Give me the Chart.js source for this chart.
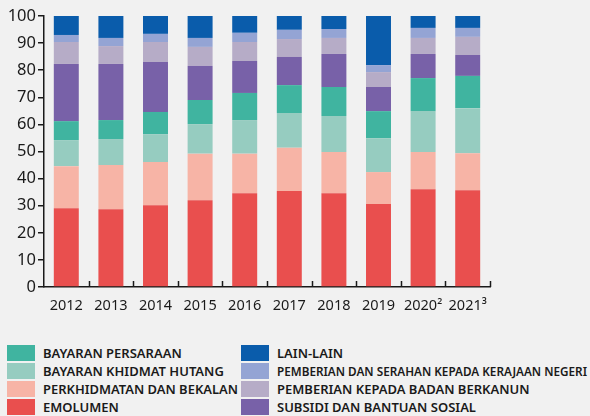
<!DOCTYPE html>
<html>
<head>
<meta charset="utf-8">
<script src="https://cdn.jsdelivr.net/npm/chart.js@4"></script>
<style>
  body { margin: 0; background: #f1f1f1; font-family: "Noto Sans", sans-serif; }
  #wrap { position: relative; width: 590px; height: 416px; }
  #chartBox { position: absolute; left: 0; top: 0; width: 590px; height: 330px; }
  .legCol { position: absolute; top: 344px; }
  .legItem { height: 18px; display: flex; align-items: center; white-space: nowrap; }
  .legItem span.sw { width: 28px; height: 16px; display: inline-block; margin-right: 8px; flex: none; }
  .legItem span.tx { display: inline-block; font-size: 13px; font-weight: 600; color: #1a1a1a; transform-origin: left center; }
</style>
</head>
<body>
<div id="wrap">
  <div id="chartBox"><canvas id="chart"></canvas></div>
  <div class="legCol" id="legLeft" style="left:7px"></div>
  <div class="legCol" id="legRight" style="left:241px"></div>
</div>
<script>
const years = ['2012', '2013', '2014', '2015', '2016', '2017', '2018', '2019', '2020²', '2021³'];

//..share of expenditure, %
const emolumen    = [29.1, 28.7, 30.2, 32.0, 34.6, 35.4, 34.6, 30.6, 36.1, 35.7];
const bekalan     = [15.5, 16.3, 15.9, 17.2, 14.6, 16.0, 15.2, 11.8, 13.7, 13.7];
const hutang      = [9.6, 9.6, 10.3, 10.9, 12.4, 12.8, 13.3, 12.5, 15.1, 16.6];
const persaraan   = [7.0, 7.0, 8.2, 8.9, 10.0, 10.3, 10.7, 10.0, 12.2, 11.9];
const subsidi     = [21.1, 20.7, 18.4, 12.6, 11.8, 10.4, 12.2, 8.9, 8.9, 7.7];
const berkanun    = [8.1, 6.6, 7.4, 7.0, 7.0, 6.6, 5.9, 5.5, 5.9, 6.7];
const negeri      = [2.6, 3.0, 3.0, 3.3, 3.4, 3.4, 3.3, 2.6, 3.7, 3.3];
const lainLain    = [7.0, 8.1, 6.6, 8.1, 6.2, 5.1, 4.8, 18.1, 4.4, 4.4];

const seriesNames = [
    'EMOLUMEN',
    'PERKHIDMATAN DAN BEKALAN',
    'BAYARAN KHIDMAT HUTANG',
    'BAYARAN PERSARAAN',
    'SUBSIDI DAN BANTUAN SOSIAL',
    'PEMBERIAN KEPADA BADAN BERKANUN',
    'PEMBERIAN DAN SERAHAN KEPADA KERAJAAN NEGERI',
    'LAIN-LAIN'
];
const seriesData = [emolumen, bekalan, hutang, persaraan, subsidi, berkanun, negeri, lainLain];
const seriesColors = ['#e94f4e', '#f7b4a6', '#96ccc0', '#40b4a0', '#7861a8', '#b6acc7', '#94a4d4', '#0a5cab'];

const datasets = seriesNames.map((name, i) => ({
    label: name,
    data: seriesData[i],
    backgroundColor: seriesColors[i],
    barPercentage: 0.56,
    categoryPercentage: 1
}));

//..small tick marks pointing up from the x axis, between categories
const innerTicks = {
    id: 'innerTicks',
    afterDraw(chart) {
        const x = chart.scales.x;
        const ctx = chart.ctx;
        const n = x.ticks.length;
        const step = (x.right - x.left) / n;
        ctx.save();
        ctx.strokeStyle = '#1a1a1a';
        ctx.lineWidth = 1.5;
        for (let i = 1; i <= n; i++) {
            const px = Math.round(x.left + i * step) + 0.5;
            ctx.beginPath();
            ctx.moveTo(px, x.top);
            ctx.lineTo(px, x.top - 6);
            ctx.stroke();
        }
        ctx.restore();
    }
};

new Chart(document.getElementById('chart'), {
    type: 'bar',
    data: { labels: years, datasets },
    options: {
        responsive: true,
        maintainAspectRatio: false,
        animation: false,
        layout: { padding: { left: 0, right: 100, top: 16, bottom: 0 } },
        plugins: { legend: { display: false }, tooltip: { enabled: false } },
        scales: {
            x: {
                stacked: true,
                grid: { display: false },
                border: { color: '#1a1a1a', width: 1.5 },
                ticks: { color: '#1a1a1a', font: { family: 'Noto Sans', size: 14.5 }, padding: 2, maxRotation: 0 },
                afterFit: s => { s.height = 43; }
            },
            y: {
                stacked: true,
                min: 0,
                max: 100,
                grid: { drawOnChartArea: false, tickLength: 6, color: '#1a1a1a', lineWidth: 1.5 },
                border: { color: '#1a1a1a', width: 1.5 },
                ticks: { stepSize: 10, color: '#1a1a1a', font: { family: 'Noto Sans', size: 16.5 }, padding: 2 },
                afterFit: s => { s.width = 44; }
            }
        }
    },
    plugins: [innerTicks]
});

//..legend in two columns, top to bottom
function legendItem(i) {
    const d = document.createElement('div');
    d.className = 'legItem';
    d.innerHTML = '<span class="sw" style="background:' + seriesColors[i] + '"></span><span class="tx">' + seriesNames[i] + '</span>';
    return d;
}
function fillColumn(id, order, maxWidth) {
    const col = document.getElementById(id);
    order.forEach(i => {
        const item = legendItem(i);
        col.appendChild(item);
        const tx = item.querySelector('.tx');
        const w = tx.getBoundingClientRect().width;
        if (w > maxWidth) tx.style.transform = 'scaleX(' + (maxWidth / w) + ')';
    });
}
fillColumn('legLeft', [3, 2, 1, 0], 195);
fillColumn('legRight', [7, 6, 5, 4], 310);
</script>
</body>
</html>
